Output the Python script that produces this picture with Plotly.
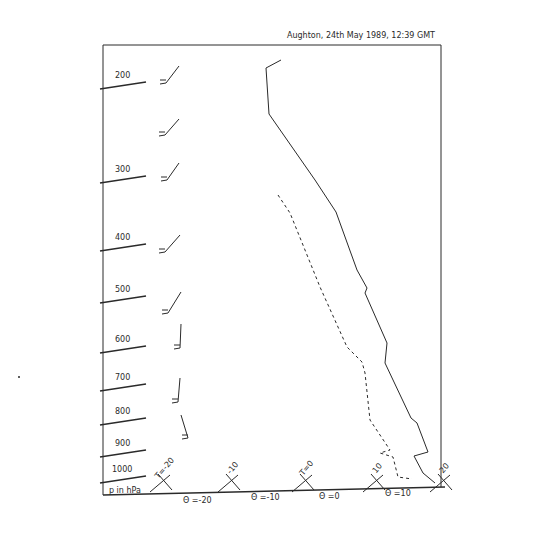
import plotly.graph_objects as go

# traced sounding, in sheet units (x right, y down)
temp_x = [281, 266, 269, 315, 336, 357, 367, 365, 387, 385, 411, 417, 428, 414, 423, 435]
temp_y = [60, 68, 114, 180, 212, 270, 288, 293, 343, 363, 418, 423, 452, 456, 473, 483]
dew_x = [278, 290, 320, 347, 362, 365, 370, 385, 390, 380, 393, 398, 412]
dew_y = [195, 213, 287, 347, 362, 373, 420, 443, 450, 453, 457, 477, 479]

isobar_labels = ["200", "300", "400", "500", "600", "700", "800", "900", "1000"]
isobar_y = [89, 183, 251, 303, 353, 391, 425, 457, 483]

# wind barbs: shaft foot/top and one tick
barb_x0 = [166, 165, 167, 165, 168, 180, 178, 188]
barb_y0 = [83, 135, 180, 252, 313, 348, 402, 438]
barb_x1 = [179, 179, 179, 180, 181, 181, 180, 181]
barb_y1 = [66, 119, 163, 235, 292, 324, 378, 415]

iso_t_labels = ["T=-20", "-10", "T=0", "10", "20"]
iso_t_x = [160, 228, 302, 373, 440]
theta_labels = ["Θ =-20", "Θ =-10", "Θ =0", "Θ =10"]
theta_x = [197, 265, 329, 398]

title = "Aughton, 24th May 1989, 12:39 GMT"
ink = "#2a2a2a"
font = dict(family="DejaVu Sans", size=8, color=ink)

fig = go.Figure()

def seg(xs, ys, width=1, dash=None):
    fig.add_trace(go.Scatter(x=xs, y=ys, mode="lines", hoverinfo="skip",
                             line=dict(color=ink, width=width, dash=dash)))

# frame
seg([103, 103, 441, 441], [495, 45, 45, 487])
seg([103, 445], [495, 487], width=1.5)

seg(temp_x, temp_y)
seg(dew_x, dew_y, dash="dot")

for lab, y in zip(isobar_labels, isobar_y):
    seg([100, 146], [y, y - 7], width=1.5)
    fig.add_annotation(x=122, y=y - 7, text=lab, showarrow=False, font=font,
                       xanchor="center", yanchor="bottom")

for x0, y0, x1, y1 in zip(barb_x0, barb_y0, barb_x1, barb_y1):
    seg([x1, x0, x0 - 6], [y1, y0, y0 + 1])
    seg([x0 - 6, x0], [y0 - 3, y0 - 3])

# isotherm crosses at the base
for lab, x in zip(iso_t_labels, iso_t_x):
    seg([x - 10, x + 10], [492, 475])
    seg([x - 2, x + 12], [474, 490])
    fig.add_annotation(x=x + 4, y=468, text=lab, showarrow=False, font=font,
                       textangle=-50)

for lab, x in zip(theta_labels, theta_x):
    fig.add_annotation(x=x, y=500 - (x - 197) * 0.03, text=lab, showarrow=False,
                       font=font)

fig.add_annotation(x=125, y=490, text="p in hPa", showarrow=False, font=font)
fig.add_annotation(x=437, y=35, text=title, showarrow=False, font=font,
                   xanchor="right")
fig.add_trace(go.Scatter(x=[19], y=[377], mode="markers", hoverinfo="skip",
                         marker=dict(color=ink, size=2)))

# page has an 8px body margin, so the sheet window starts at 8
fig.update_layout(width=552, height=544, margin=dict(l=0, r=0, t=0, b=0),
                  showlegend=False, plot_bgcolor="white", paper_bgcolor="white")
fig.update_xaxes(range=[8, 560], visible=False)
fig.update_yaxes(range=[552, 8], visible=False)
fig.write_html("out.html")
